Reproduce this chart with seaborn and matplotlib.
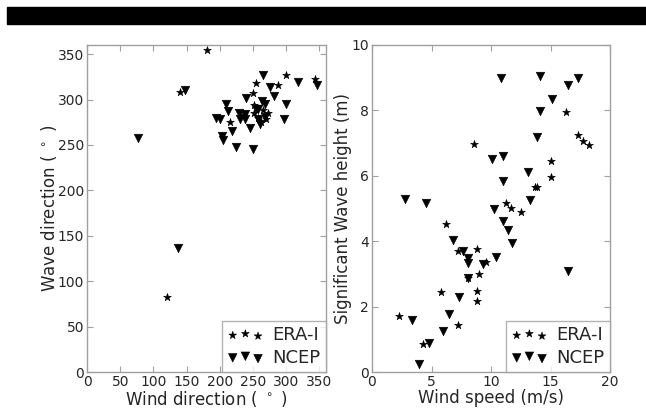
import matplotlib
matplotlib.use("Agg")
import matplotlib.pyplot as plt
import seaborn as sns
import pandas as pd
from matplotlib.patches import Rectangle

# Left panel: wind direction vs wave direction
era_wdir = [121, 140, 181, 254, 288, 300, 343, 250, 215, 251, 272, 270, 251, 258, 265, 235, 262]
era_wvdir = [83, 308, 355, 318, 316, 327, 323, 307, 275, 285, 285, 278, 294, 280, 288, 283, 275]
ncep_wdir = [77, 137, 148, 265, 318, 346, 276, 240, 281, 263, 268, 300, 210, 213, 229, 258,
             195, 200, 230, 238, 245, 261, 296, 219, 204, 205, 224, 250, 268, 258, 238, 255]
ncep_wvdir = [258, 136, 311, 327, 319, 316, 314, 302, 304, 298, 295, 295, 295, 287, 285, 289,
              280, 279, 278, 279, 269, 273, 279, 265, 260, 255, 248, 246, 281, 278, 284, 290]

# Right panel: wind speed vs significant wave height
era_ws = [8.6, 16.3, 17.3, 17.7, 18.2, 15.0, 15.0, 13.7, 13.9, 11.3, 11.7, 12.5, 6.2, 7.2,
          8.8, 9.55, 9.0, 8.8, 8.8, 5.77, 2.27, 7.2, 4.26, 8.1]
era_hs = [6.96, 7.96, 7.25, 7.07, 6.94, 6.46, 5.95, 5.67, 5.67, 5.16, 5.02, 4.88, 4.52, 3.71,
          3.76, 3.35, 3.0, 2.49, 2.17, 2.46, 1.71, 1.43, 0.86, 2.88]
ncep_ws = [10.8, 14.1, 17.3, 16.5, 15.15, 14.1, 13.9, 10.1, 11.0, 13.1, 11.0, 2.77, 4.54, 13.3,
           10.25, 11.0, 11.45, 6.83, 7.67, 11.8, 8.1, 8.04, 9.35, 10.4, 8.1, 16.5, 7.34, 6.47,
           3.36, 5.99, 4.82, 3.98]
ncep_hs = [9.0, 9.05, 8.98, 8.78, 8.34, 7.99, 7.2, 6.5, 6.6, 6.13, 5.84, 5.29, 5.16, 5.26,
           4.98, 4.63, 4.34, 4.04, 3.71, 3.95, 3.48, 3.32, 3.30, 3.53, 2.86, 3.10, 2.30, 1.77,
           1.59, 1.25, 0.88, 0.24]

labels = ["ERA-I", "NCEP"]

sns.set_style("ticks")
plt.rcParams["font.family"] = ["DejaVu Sans"]
plt.rcParams["xtick.direction"] = "in"
plt.rcParams["ytick.direction"] = "in"

TXT = "#262626"

fig = plt.figure(figsize=(6.46, 4.08), dpi=100)
fig.patches.append(Rectangle((7 / 646, 1 - 24 / 408), 1.0, 17 / 408,
                             transform=fig.transFigure, color="black", zorder=10))

ax1 = fig.add_axes([87 / 646, 1 - 372 / 408, 239 / 646, 327 / 408])
ax2 = fig.add_axes([372 / 646, 1 - 372 / 408, 238 / 646, 327 / 408])


def panel(ax, ex, ey, nx, ny):
    sns.scatterplot(x=ex, y=ey, ax=ax, marker="*", s=34, color="black",
                    edgecolor="black", linewidth=0.4, label=labels[0], legend=False)
    sns.scatterplot(x=nx, y=ny, ax=ax, marker="v", s=38, color="black",
                    edgecolor="black", linewidth=0.4, label=labels[1], legend=False)
    for sp in ax.spines.values():
        sp.set_color("#a0a0a0")
        sp.set_linewidth(1.0)
    ax.tick_params(axis="both", which="both", direction="in", top=True, right=True,
                   labelsize=10, labelcolor=TXT, color="#a0a0a0", length=4, pad=2)
    handles = ax.collections[:2]
    leg = ax.legend(handles, labels, loc="lower right", scatterpoints=3,
                    scatteryoffsets=[0.375, 0.5, 0.3125], fontsize=13,
                    frameon=True, fancybox=False, borderaxespad=0.0,
                    handletextpad=0.5, borderpad=0.3, labelspacing=0.25,
                    handlelength=2.0)
    for t in leg.get_texts():
        t.set_color(TXT)
    leg.get_frame().set_edgecolor("#a0a0a0")
    leg.get_frame().set_linewidth(1.0)


panel(ax1, era_wdir, era_wvdir, ncep_wdir, ncep_wvdir)
ax1.set_xlim(0, 360)
ax1.set_ylim(0, 360)
ax1.set_xticks(range(0, 351, 50))
ax1.set_yticks(range(0, 351, 50))
ax1.set_xlabel("Wind direction ( $^\\circ$ )", fontsize=12, labelpad=0, color=TXT)
ax1.set_ylabel("Wave direction ( $^\\circ$ )", fontsize=12, labelpad=-1, color=TXT)

panel(ax2, era_ws, era_hs, ncep_ws, ncep_hs)
ax2.set_xlim(0, 20)
ax2.set_ylim(0, 10)
ax2.set_xticks(range(0, 21, 5))
ax2.set_yticks(range(0, 11, 2))
ax2.set_xlabel("Wind speed (m/s)", fontsize=12, labelpad=0, color=TXT)
ax2.set_ylabel("Significant Wave height (m)", fontsize=12, labelpad=0, color=TXT)

fig.savefig("out.png", dpi=100)
